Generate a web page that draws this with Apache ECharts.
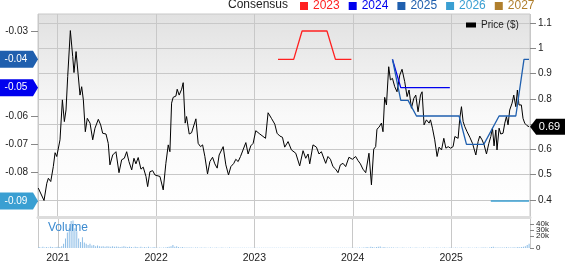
<!DOCTYPE html>
<html><head><meta charset="utf-8">
<script src="https://cdn.jsdelivr.net/npm/echarts@6/dist/echarts.min.js"></script>
<style>html,body{margin:0;padding:0;background:#fff}#c{width:565px;height:264px}</style>
</head><body><div id="c"></div>
<script>
// ---- data (dates as decimal years) ----
const priceDates = [2020.807,2020.865,2020.893,2020.909,2020.933,2020.959,2020.977,2020.994,
2021.027,2021.051,2021.071,2021.088,2021.105,2021.132,2021.156,2021.169,2021.190,2021.210,
2021.230,2021.247,2021.264,2021.284,2021.304,2021.332,2021.359,2021.382,2021.400,2021.416,
2021.440,2021.460,2021.494,2021.517,2021.534,2021.562,2021.595,2021.626,2021.653,2021.680,
2021.704,2021.727,2021.755,2021.778,2021.798,2021.821,2021.849,2021.872,2021.900,2021.917,
2021.940,2021.968,2021.991,
2022.042,2022.075,2022.102,2022.126,2022.143,2022.160,2022.176,2022.204,2022.217,2022.237,
2022.262,2022.278,2022.298,2022.312,2022.339,2022.363,2022.407,2022.430,2022.454,2022.475,
2022.498,2022.525,2022.549,2022.576,2022.599,2022.623,2022.643,2022.660,2022.684,2022.711,
2022.738,2022.762,2022.792,2022.812,2022.836,2022.860,2022.880,2022.914,2022.937,2022.964,
2022.988,
2023.015,2023.056,2023.114,2023.140,2023.174,2023.208,2023.231,2023.259,2023.286,2023.309,
2023.343,2023.377,2023.421,2023.461,2023.495,2023.522,2023.546,2023.563,2023.596,2023.631,
2023.657,2023.681,2023.698,2023.725,2023.748,2023.773,2023.799,2023.826,2023.850,2023.874,
2023.901,2023.928,2023.961,2023.996,
2024.029,2024.053,2024.077,2024.103,2024.131,2024.164,2024.189,2024.212,2024.232,2024.245,
2024.266,2024.290,2024.306,2024.323,2024.341,2024.364,2024.381,2024.402,2024.425,2024.448,
2024.476,2024.499,2024.526,2024.550,2024.570,2024.594,2024.618,2024.638,2024.661,2024.686,
2024.702,2024.722,2024.746,2024.773,2024.787,2024.807,2024.830,2024.854,2024.874,2024.899,
2024.922,2024.943,2024.966,2024.990,
2025.016,2025.034,2025.067,2025.084,2025.101,2025.118,2025.135,2025.158,2025.186,2025.213,
2025.226,2025.247,2025.270,2025.287,2025.310,2025.331,2025.355,2025.379,2025.399,2025.416,
2025.432,2025.450,2025.462,2025.483,2025.500,2025.523,2025.541,2025.558,2025.574,2025.591,
2025.615,2025.632,2025.653,2025.669,2025.685,2025.709,2025.726,2025.743,2025.767,2025.787];
const priceValues = [0.447,0.398,0.466,0.486,0.473,0.532,0.587,0.572,
0.638,0.796,0.710,0.756,0.888,1.070,0.967,0.904,0.987,0.901,
0.815,0.848,0.796,0.670,0.723,0.704,0.638,0.684,0.677,0.719,
0.697,0.664,0.661,0.624,0.539,0.578,0.591,0.508,0.559,0.565,
0.591,0.552,0.519,0.565,0.543,0.568,0.522,0.530,0.493,0.453,
0.512,0.516,0.499,
0.493,0.440,0.545,0.618,0.591,0.783,0.806,0.811,0.838,0.815,
0.838,0.864,0.704,0.730,0.661,0.666,0.721,0.624,0.611,0.618,
0.572,0.503,0.552,0.569,0.543,0.526,0.578,0.572,0.611,0.539,
0.499,0.532,0.545,0.561,0.552,0.572,0.565,0.627,0.582,0.614,
0.624,
0.674,0.661,0.644,0.745,0.723,0.700,0.664,0.653,0.648,0.609,
0.631,0.598,0.585,0.535,0.595,0.565,0.582,0.543,0.618,0.609,
0.582,0.591,0.595,0.545,0.572,0.561,0.532,0.522,0.508,0.539,
0.545,0.532,0.569,0.561,
0.572,0.556,0.543,0.522,0.508,0.585,0.460,0.601,0.611,0.680,
0.688,0.704,0.670,0.806,0.776,0.927,0.875,0.881,0.848,0.828,
0.894,0.917,0.868,0.809,0.835,0.763,0.802,0.815,0.749,0.815,
0.828,0.697,0.717,0.704,0.717,0.684,0.638,0.572,0.609,0.598,
0.644,0.605,0.611,0.605,
0.611,0.651,0.644,0.723,0.769,0.710,0.690,0.670,0.648,0.624,
0.631,0.578,0.631,0.653,0.638,0.618,0.582,0.624,0.651,0.684,
0.614,0.677,0.598,0.684,0.661,0.664,0.704,0.730,0.697,0.756,
0.783,0.815,0.769,0.835,0.776,0.776,0.723,0.704,0.694,0.690];

const c2023Dates = [2023.241,2023.400,2023.485,2023.738,2023.824,2023.986];
const c2023Values = [-0.04,-0.04,-0.03,-0.03,-0.04,-0.04];
const c2024Dates = [2024.402,2024.486,2024.983];
const c2024Values = [-0.04,-0.05,-0.05];
const c2025Dates = [2024.402,2024.486,2024.560,2024.645,2025.077,2025.152,2025.328,2025.483,2025.653,2025.736,2025.787];
const c2025Values = [-0.04,-0.0545,-0.0545,-0.06,-0.06,-0.07,-0.07,-0.06,-0.06,-0.04,-0.04];
const c2026Dates = [2025.399,2025.787];
const c2026Values = [-0.09,-0.09];
const c2027Dates = [];
const c2027Values = [];

// weekly volume (thousands of shares), first week starting at volStart
const volStart = 2020.81;
const volumeK = [1.5,1,2,1,1.5,1,2,1.5,1,1.5,
2,1.5,3,7,16,26,33,45,46,33,
28,16,10,18,9,7,5,7,4,5,
3,4,3,2.5,3,2,3,2.5,2,3,
2,2.5,2,1.5,2,3,2,1.5,2,1.5,
1,2,1.5,1,2,1,1.5,1,2,1,
1,1.5,1,0.5,1,0.5,1,1,1.5,2,
3,5,2,3,1.5,1,1.5,1,0.8,1,
0.8,1,0.6,0.8,1,0.6,0.8,0.5,0.8,0.6,
0.5,0.8,0.6,0.5,0.7,0.5,0.6,0.8,0.5,0.6,
0.5,0.7,0.5,0.6,0.4,0.5,0.6,0.4,0.5,0.6,
0.4,0.5,0.6,0.4,0.5,0.3,0.5,0.4,0.6,0.4,
0.3,0.5,0.4,0.3,0.5,0.4,0.3,0.4,0.5,0.3,
0.4,0.3,0.5,0.4,0.3,0.4,0.3,0.5,0.4,0.3,
0.4,0.3,0.4,0.5,0.3,0.4,0.3,0.4,0.3,0.5,
0.4,0.3,0.5,0.4,0.3,0.4,0.5,0.4,0.3,0.4,
0.5,0.4,0.3,0.5,0.4,0.6,0.5,0.4,0.6,0.5,
0.7,0.5,0.8,1,1.5,1,2,1.5,1,1.5,
2,2.5,1,1.5,1,0.8,1,0.7,0.8,0.6,
0.7,0.5,0.6,0.8,0.5,0.6,0.5,0.7,0.5,0.6,
0.8,0.5,0.6,0.5,0.7,0.5,0.6,0.8,0.5,0.6,
0.5,0.7,0.5,0.6,0.5,0.8,0.6,0.5,0.7,0.6,
0.5,0.8,0.6,0.5,0.7,0.6,0.5,0.6,0.8,0.5,
0.6,0.5,0.7,0.6,0.5,0.8,1,0.7,0.6,1,
1.5,2,1,0.8,1,0.7,0.8,1,1.2,0.8,
1,0.8,1.2,1,1.5,1.2,1.5,2,3,5,
7];

const axisStart = 2020.804, axisEnd = 2025.797;
const priceTicks = [0.4, 1.1, 0.1];      // min, max, step
const consensusTicks = [-0.09, -0.03, 0.01];
const volumeTicks = [0, 50000, 10000];
const legendYears = ['2023','2024','2025','2026','2027'];
const yearColors = ['#ff2020','#0000ee','#1f5fae','#3a9fd2','#b07f2d'];

// ---- helpers ----
function yt(d){const y=Math.floor(d);const a=new Date(y,0,1).getTime(),b=new Date(y+1,0,1).getTime();return a+(d-y)*(b-a);}
function zip(ds,vs){return ds.map((d,i)=>[yt(d),vs[i]]);}
const WEEK = 7*864e5;
const volData = volumeK.map((v,i)=>[yt(volStart)+i*WEEK, v*1000]);
const xmin = yt(axisStart), xmax = yt(axisEnd);
const YEAR = 365*864e5;

const L = 38, W = 492;
function timeAxis(grid, opts){
  return Object.assign({type:'time', gridIndex:grid, min:xmin, max:xmax,
    minInterval:YEAR, maxInterval:366*864e5,
    axisLine:{show:false}, axisTick:{show:false}, axisLabel:{show:false},
    splitLine:{show:false}}, opts||{});
}
const tagPath = 'path://M0,0 L33,0 L38,8.5 L33,17 L0,17 Z';
function leftTag(values, color){
  const v = values[values.length-1];
  return {silent:true, symbol:tagPath, symbolSize:[38,17], symbolOffset:[-19,0],
    itemStyle:{color:color},
    label:{show:true, position:'inside', offset:[-3,0], color:'#fff', fontSize:10, fontFamily:'Liberation Sans, Arial',
      formatter: v.toFixed(2)},
    data:[{coord:[xmin, v]}]};
}
const lastPrice = priceValues[priceValues.length-1];

const chart = echarts.init(document.getElementById('c'), null, {renderer:'canvas'});
chart.setOption({
  animation:false,
  textStyle:{fontFamily:'Liberation Sans, Arial, sans-serif'},
  title:{text:'Consensus', left:228, top:-1, padding:0,
    textStyle:{fontSize:12, fontWeight:'normal', color:'#222'}},
  legend:[
    {left:300, top:0, padding:0, itemWidth:8, itemHeight:8, itemGap:9, icon:'rect',
     selectedMode:false,
     data: legendYears.map((y,i)=>({name:y, itemStyle:{color:yearColors[i]}, textStyle:{color:yearColors[i]}})),
     textStyle:{fontSize:12}},
    {left:466, top:20, padding:0, itemWidth:10, itemHeight:5, icon:'rect', selectedMode:false,
     data:[{name:'Price ($)', itemStyle:{color:'#000'}}], textStyle:{fontSize:10, color:'#222'}}
  ],
  grid:[
    {left:L, top:14, width:W, height:203, show:true, borderColor:'#c8c8c8', borderWidth:1,
     backgroundColor:{type:'linear',x:0,y:0,x2:0,y2:1,colorStops:[
       {offset:0,color:'#e1e1e1'},{offset:0.5,color:'#f9f9f9'},{offset:1,color:'#ffffff'}]}},
    {left:L, top:23, width:W, height:177},
    {left:L, top:31, width:W, height:170},
    {left:L, top:218, width:W, height:35}
  ],
  xAxis:[
    timeAxis(0,{axisLine:{show:true, lineStyle:{color:'#dcdcdc', width:3}},
      splitLine:{show:true, lineStyle:{color:'#c8c8c8', width:1}}}),
    timeAxis(1),
    timeAxis(2),
    timeAxis(3,{axisLabel:{show:true, margin:5, fontSize:10.5, color:'#222',
        formatter:(v)=>String(new Date(v).getFullYear())},
      splitLine:{show:true, lineStyle:{color:'#c8c8c8', width:1}}})
  ],
  yAxis:[
    {type:'value', gridIndex:0, show:false, min:0, max:1},
    {type:'value', gridIndex:1, position:'right', min:priceTicks[0], max:priceTicks[1], interval:priceTicks[2],
     axisLine:{show:false}, axisTick:{show:true, length:6, lineStyle:{color:'#888'}},
     axisLabel:{margin:8, fontSize:10, color:'#222', formatter:(v)=>String(Math.round(v*10)/10)},
     splitLine:{show:true, lineStyle:{color:'#c8c8c8', width:1}}},
    {type:'value', gridIndex:2, position:'left', min:consensusTicks[0], max:consensusTicks[1], interval:consensusTicks[2],
     axisLine:{show:false}, axisTick:{show:true, length:7, lineStyle:{color:'#888'}},
     axisLabel:{margin:10, fontSize:10, color:'#222', formatter:(v)=>v.toFixed(2)},
     splitLine:{show:false}},
    {type:'value', gridIndex:3, position:'right', min:volumeTicks[0], max:volumeTicks[1], interval:volumeTicks[2],
     axisLine:{show:true, lineStyle:{color:'#c8c8c8'}}, axisTick:{show:true, length:4, lineStyle:{color:'#888'}},
     axisLabel:{margin:6, fontSize:8, color:'#222', showMinLabel:true, showMaxLabel:false, hideOverlap:false,
       lineHeight:6, padding:0,
       formatter:(v)=> v===0?'0':(v/1000)+'k'},
     splitLine:{show:false}}
  ],
  graphic:[{type:'text', left:48, top:222, z:10,
    style:{text:'Volume', fill:'#3d8bd0', fontSize:12, fontFamily:'Liberation Sans, Arial'}}],
  series:[
    {name:'Price ($)', type:'line', xAxisIndex:1, yAxisIndex:1, data:zip(priceDates, priceValues),
     showSymbol:false, clip:false, color:'#000', lineStyle:{color:'#000', width:1}, z:3,
     markPoint:{silent:true, symbol:'path://M0,8 L6,0 L34,0 L34,16 L6,16 Z', symbolSize:[35,16], symbolOffset:[17.5,0],
       itemStyle:{color:'#000'},
       label:{show:true, position:'inside', offset:[2,0], color:'#fff', fontSize:11, fontFamily:'Liberation Sans, Arial',
         formatter:String(lastPrice)},
       data:[{coord:[xmax, lastPrice]}]}},
    {name:'2023', type:'line', xAxisIndex:2, yAxisIndex:2, data:zip(c2023Dates,c2023Values), showSymbol:false, clip:false,
     color:yearColors[0], lineStyle:{width:1.3, color:yearColors[0]}, z:4},
    {name:'2024', type:'line', xAxisIndex:2, yAxisIndex:2, data:zip(c2024Dates,c2024Values), showSymbol:false, clip:false,
     color:yearColors[1], lineStyle:{width:1.3, color:yearColors[1]}, z:4, markPoint:leftTag(c2024Values, yearColors[1])},
    {name:'2025', type:'line', xAxisIndex:2, yAxisIndex:2, data:zip(c2025Dates,c2025Values), showSymbol:false, clip:false,
     color:yearColors[2], lineStyle:{width:1.3, color:yearColors[2]}, z:4, markPoint:leftTag(c2025Values, yearColors[2])},
    {name:'2026', type:'line', xAxisIndex:2, yAxisIndex:2, data:zip(c2026Dates,c2026Values), showSymbol:false, clip:false,
     color:yearColors[3], lineStyle:{width:1.3, color:yearColors[3]}, z:4, markPoint:leftTag(c2026Values, yearColors[3])},
    {name:'2027', type:'line', xAxisIndex:2, yAxisIndex:2, data:zip(c2027Dates,c2027Values), showSymbol:false, clip:false,
     color:yearColors[4], lineStyle:{width:1.3, color:yearColors[4]}, z:4},
    {name:'Volume', type:'bar', xAxisIndex:3, yAxisIndex:3, data:volData, barWidth:1,
     itemStyle:{color:'#8dbde6'}, large:false}
  ]
});
</script></body></html>
